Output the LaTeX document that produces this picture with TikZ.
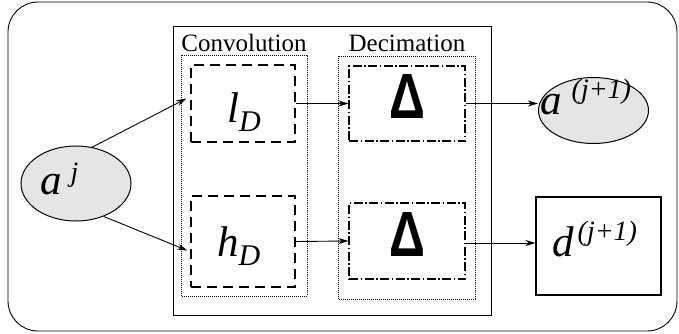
\documentclass[tikz,border=0pt]{standalone}
\usepackage{fontspec}
\usepackage{graphicx}
\setmainfont{Liberation Serif}
\newfontfamily\deltafont{Liberation Sans}
\usetikzlibrary{shapes.geometric,arrows.meta}
\newcommand{\bigfnt}{\fontsize{43}{43}\selectfont\itshape}
\newcommand{\supfnt}{\fontsize{28}{28}\selectfont\itshape}
\newcommand{\subfnt}{\fontsize{30}{30}\selectfont\itshape}
\newcommand{\deltasym}{\scalebox{0.78}[1]{\deltafont\bfseries\fontsize{64}{64}\selectfont Δ}}
\begin{document}
\begin{tikzpicture}[x=1pt,y=-1pt,
  frame/.style={draw=black, line width=0.9pt},
  groupbox/.style={draw=black, line width=0.6pt, dash pattern=on 0.7pt off 1.3pt},
  dashbox/.style={draw=black, line width=1.2pt, dash pattern=on 10pt off 6pt, inner sep=0pt},
  ddbox/.style={draw=black, line width=1.1pt, dash pattern=on 9pt off 2.5pt on 1.5pt off 2.5pt, inner sep=0pt},
  datanode/.style={ellipse, draw=black, line width=1pt, fill=black!10, inner sep=0pt},
  outbox/.style={rectangle, draw=black, line width=1.1pt, inner sep=0pt},
  conn/.style={line width=0.9pt, -{Stealth[length=10pt,width=6pt,inset=3pt]}},
  grouplabel/.style={anchor=base, font=\fontsize{25}{25}\selectfont, inner sep=0pt},
  txt/.style={anchor=base west, inner sep=0pt},
  deltatxt/.style={anchor=base, inner sep=0pt}
]
\useasboundingbox (0,0) rectangle (679,333);
\draw[frame, rounded corners=30pt] (8,2) rectangle (677,331);
\draw[frame] (173,26) rectangle (491,315);
\draw[groupbox] (181,55) rectangle (307,296);
\draw[groupbox] (338,56) rectangle (475,299);
\node[grouplabel] (convl) at (244,51) {Convolution};
\node[grouplabel] (decl) at (407,51) {Decimation};

\node[dashbox, minimum width=104pt, minimum height=77pt] (lD) at (243,103.5) {};
\node[txt] (lDt) at (227,122) {\bigfnt l\raisebox{-9pt}{\subfnt D}};
\node[dashbox, minimum width=104pt, minimum height=91pt] (hD) at (243,241.5) {};
\node[txt] (hDt) at (217,256) {\bigfnt h\raisebox{-9pt}{\subfnt D}};
\node[ddbox, minimum width=116pt, minimum height=75pt] (dT) at (407,103.5) {};
\node[deltatxt] (dTt) at (407,118) {\deltasym};
\node[ddbox, minimum width=116pt, minimum height=76pt] (dB) at (407,241) {};
\node[deltatxt] (dBt) at (407,256) {\deltasym};

\node[datanode, minimum width=110pt, minimum height=75pt] (aj) at (76,183.5) {};
\node[txt] (ajt) at (40,194) {\bigfnt a\hspace{9pt}\raisebox{13pt}{\supfnt j}};
\node[datanode, minimum width=110pt, minimum height=66pt] (a1) at (593.5,110.5) {};
\node[txt] (a1t) at (540,114) {\bigfnt a\hspace{10pt}\raisebox{16pt}{\supfnt (j+1)}};
\node[outbox, minimum width=125pt, minimum height=98pt] (d) at (598.5,246) {};
\node[txt] (dt) at (552,256) {\bigfnt d\hspace{4pt}\raisebox{16pt}{\supfnt (j+1)}};

\draw[conn] (aj.66) -- ([xshift=-4pt,yshift=5pt]lD.west);
\draw[conn] (aj.-50) -- ([xshift=-3pt,yshift=-9pt]hD.west);
\draw[conn] (lD.east) -- (dT.west);
\draw[conn] (hD.east) -- (dB.west);
\draw[conn] (dT.east) -- (dT.east -| a1.west);
\draw[conn] ([yshift=-2pt]dB.east) -- ([yshift=-2pt]dB.east -| d.west);
\end{tikzpicture}
\end{document}
